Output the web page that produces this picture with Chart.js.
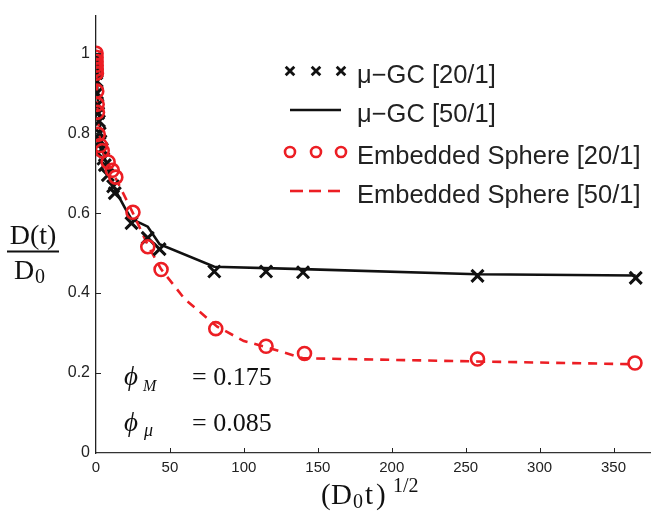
<!DOCTYPE html>
<html><head><meta charset="utf-8">
<script src="https://cdn.jsdelivr.net/npm/chart.js@4.4.0/dist/chart.umd.min.js"></script>
<style>
html,body{margin:0;padding:0;overflow:hidden;background:#fff;width:653px;height:513px}
#wrap{position:absolute;left:0;top:0;width:662px;height:513px}
</style></head><body><div id="wrap"><canvas id="c" width="662" height="513"></canvas></div>
<script>
// ---- data ----
const xTicks = [0, 50, 100, 150, 200, 250, 300, 350];
const yTicks = [0, 0.2, 0.4, 0.6, 0.8, 1];

const gc20X = [0.05, 0.1, 0.2, 0.3, 0.5, 0.7, 1, 1.5, 2, 2.5, 3, 4, 5, 6, 8, 11.6, 12.7, 24, 35, 43, 80, 115, 140, 258, 365];
const gc20Y = [0.99, 0.98, 0.965, 0.95, 0.93, 0.9, 0.87, 0.85, 0.83, 0.8, 0.78, 0.76, 0.736, 0.72, 0.695, 0.667, 0.65, 0.575, 0.538, 0.51, 0.454, 0.454, 0.452, 0.443, 0.438];

const gc50X = [0, 0.5, 1, 2, 3, 5, 8, 12, 20, 24, 30, 35, 43, 80, 140, 258, 365];
const gc50Y = [1.0, 0.95, 0.9, 0.85, 0.8, 0.75, 0.71, 0.665, 0.61, 0.585, 0.575, 0.566, 0.522, 0.466, 0.46, 0.447, 0.444];

const es20X = [0.05, 0.08, 0.1, 0.15, 0.2, 0.3, 0.5, 0.8, 1, 1.5, 3, 4.2, 8.2, 11, 13.4, 25, 35, 44, 81, 115, 141, 258, 364.5];
const es20Y = [1.0, 0.99, 0.98, 0.97, 0.96, 0.95, 0.905, 0.872, 0.852, 0.797, 0.769, 0.756, 0.728, 0.707, 0.69, 0.602, 0.516, 0.459, 0.311, 0.267, 0.249, 0.235, 0.225];

const es50X = [0, 0.5, 1, 2, 4, 8, 13, 25, 35, 44, 60, 82, 100, 115, 140, 258, 365];
const es50Y = [1.0, 0.92, 0.86, 0.8, 0.76, 0.725, 0.69, 0.6, 0.52, 0.46, 0.385, 0.316, 0.28, 0.265, 0.237, 0.229, 0.222];

const labels = ['\u03bc\u2212GC [20/1]', '\u03bc\u2212GC [50/1]', 'Embedded Sphere [20/1]', 'Embedded Sphere [50/1]'];

const RED = 'rgb(236,30,36)';
const pts = (xs, ys) => xs.map((x, i) => ({x: x, y: ys[i]}));

const sans = '"Liberation Sans", Arial, Helvetica, sans-serif';
const serif = '"Liberation Serif", "Times New Roman", serif';

const decor = {
  id: 'decor',
  afterDraw(chart) {
    const ctx = chart.ctx, xs = chart.scales.x, ys = chart.scales.y, a = chart.chartArea;
    ctx.save();
    // inward tick marks
    ctx.strokeStyle = '#222'; ctx.lineWidth = 1;
    xTicks.forEach(v => {
      if (v === 0) return;
      const px = Math.round(xs.getPixelForValue(v)) + 0.5;
      ctx.beginPath(); ctx.moveTo(px, a.bottom); ctx.lineTo(px, a.bottom - 5); ctx.stroke();
    });
    yTicks.forEach(v => {
      if (v === 0) return;
      const py = Math.round(ys.getPixelForValue(v)) + 0.5;
      ctx.beginPath(); ctx.moveTo(a.left, py); ctx.lineTo(a.left + 5, py); ctx.stroke();
    });

    // legend
    const lx = [290, 316, 341];
    const rows = [71, 110, 152, 191];
    ctx.fillStyle = '#222';
    ctx.font = '25.5px ' + sans;
    ctx.textBaseline = 'middle';
    ctx.textAlign = 'left';
    labels.forEach((t, i) => ctx.fillText(t, 357, rows[i] + 5));
    // crosses
    ctx.strokeStyle = '#111'; ctx.lineWidth = 2.8;
    lx.forEach(x => {
      const y = rows[0], r = 4.3;
      ctx.beginPath(); ctx.moveTo(x - r, y - r); ctx.lineTo(x + r, y + r);
      ctx.moveTo(x + r, y - r); ctx.lineTo(x - r, y + r); ctx.stroke();
    });
    // solid line
    ctx.lineWidth = 2.6;
    ctx.beginPath(); ctx.moveTo(290, rows[1]); ctx.lineTo(341, rows[1]); ctx.stroke();
    // circles
    ctx.strokeStyle = RED; ctx.lineWidth = 2.6;
    lx.forEach(x => { ctx.beginPath(); ctx.arc(x, rows[2], 5, 0, Math.PI * 2); ctx.stroke(); });
    // dashes
    ctx.lineWidth = 2.6;
    [[290, 303], [309, 321], [328, 340]].forEach(d => {
      ctx.beginPath(); ctx.moveTo(d[0], rows[3]); ctx.lineTo(d[1], rows[3]); ctx.stroke();
    });

    // y title (fraction)
    ctx.fillStyle = '#111';
    ctx.textAlign = 'center'; ctx.textBaseline = 'alphabetic';
    ctx.font = '28px ' + serif;
    ctx.fillText('D(t)', 33, 244);
    ctx.fillRect(7, 250.5, 52, 2);
    ctx.textAlign = 'left';
    ctx.fillText('D', 14, 279);
    ctx.font = '20px ' + serif;
    ctx.fillText('0', 35, 283);

    // x title
    ctx.font = '29px ' + serif;
    ctx.fillText('(', 321, 504);
    ctx.fillText('D', 331, 504);
    ctx.fillText('t', 365, 504);
    ctx.fillText(')', 376, 504);
    ctx.font = '20px ' + serif;
    ctx.fillText('0', 353, 508);
    ctx.fillText('1/2', 393, 492);

    // annotations
    ctx.font = 'italic 27px ' + serif;
    ctx.fillText('\u03d5', 124, 385);
    ctx.fillText('\u03d5', 124, 431);
    ctx.font = 'italic 16px ' + serif;
    ctx.fillText('M', 143, 391);
    ctx.font = 'italic 18px ' + serif;
    ctx.fillText('\u03bc', 144, 436);
    ctx.font = '26px ' + serif;
    ctx.fillText('= 0.175', 192, 385);
    ctx.fillText('= 0.085', 192, 431);
    ctx.restore();
  }
};

new Chart(document.getElementById('c'), {
  type: 'scatter',
  data: {
    datasets: [
      { label: labels[2], data: pts(es20X, es20Y), order: 0, showLine: false,
        pointStyle: 'circle', pointRadius: 6.5, borderColor: RED, backgroundColor: 'rgba(0,0,0,0)', borderWidth: 2.6 },
      { label: labels[0], data: pts(gc20X, gc20Y), order: 1, showLine: false,
        pointStyle: 'crossRot', pointRadius: 8.5, borderColor: '#111', borderWidth: 3 },
      { label: labels[3], data: pts(es50X, es50Y), order: 2, showLine: true, pointRadius: 0,
        borderColor: RED, borderWidth: 2.6, borderDash: [9, 7], tension: 0 },
      { label: labels[1], data: pts(gc50X, gc50Y), order: 3, showLine: true, pointRadius: 0,
        borderColor: '#111', borderWidth: 2.6, tension: 0 }
    ]
  },
  options: {
    responsive: false, animation: false, devicePixelRatio: 1,
    layout: { padding: { top: 10, right: 4, left: 0, bottom: 0 } },
    plugins: { legend: { display: false }, tooltip: { enabled: false } },
    scales: {
      x: {
        type: 'linear', min: 0, max: 375,
        afterBuildTicks: s => { s.ticks = xTicks.map(v => ({value: v})); },
        afterFit: s => { s.height = 60; },
        grid: { display: false, drawTicks: false },
        border: { display: true, color: '#333', width: 1.3 },
        ticks: { padding: 6, color: '#222', font: { family: sans, size: 15 }, maxRotation: 0, autoSkip: false,
                 callback: v => String(v) }
      },
      y: {
        type: 'linear', min: 0, max: 1.094,
        afterBuildTicks: s => { s.ticks = yTicks.map(v => ({value: v})); },
        afterFit: s => { s.width = 96; },
        grid: { display: false, drawTicks: false },
        border: { display: true, color: '#222', width: 1.3 },
        ticks: { padding: 6, color: '#222', font: { family: sans, size: 16 }, autoSkip: false,
                 callback: v => String(Math.round(v * 10) / 10) }
      }
    }
  },
  plugins: [decor]
});
</script></body></html>
